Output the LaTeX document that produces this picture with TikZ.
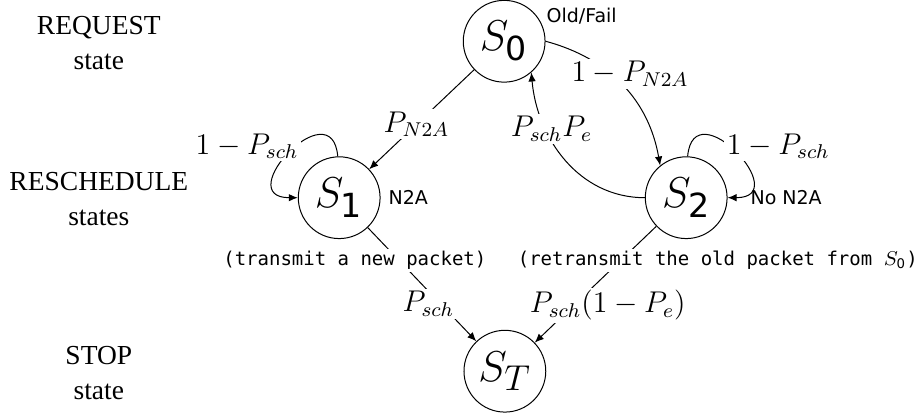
\documentclass[tikz,border=0pt]{standalone}
\usepackage{fontspec}
\setsansfont{DejaVu Sans}
\setmonofont{DejaVu Sans Mono}
\newfontfamily\lvlfont{Liberation Serif}
\usepackage{amsmath}
\usetikzlibrary{arrows.meta, positioning}

\begin{document}
\begin{tikzpicture}[
    >={Latex[length=3.6pt,width=3pt]},
    thin,
    st/.style={draw, circle, minimum size=1.15cm, inner sep=0pt,
               font=\fontsize{19}{22}\selectfont},
    prob/.style={fill=white, inner sep=1pt, font=\large},
    tag/.style={inner sep=0pt, font=\sffamily\fontsize{7.6}{9}\selectfont},
    note/.style={fill=white, inner sep=1pt,
                 font=\ttfamily\fontsize{7.6}{9}\selectfont},
    lvl/.style={align=center, font=\lvlfont\fontsize{11}{14}\selectfont}
  ]
  \useasboundingbox (0,0) rectangle (12.98,-5.905);

  % the four states
  \node[st] (s0) at (7.09,-0.58) {$S_{\textsf{0}}$};
  \node[st] (s1) at (4.77,-2.78) {$S_{\textsf{1}}$};
  \node[st] (s2) at (9.65,-2.78) {$S_{\textsf{2}}$};
  \node[st] (sT) at (7.10,-5.22) {$S_T$};

  % transitions
  \draw[->] (s0) -- node[prob, pos=0.55] {$P_{N2A}$} (s1);
  \draw[->] (s0.east) to[out=-15, in=100]
    node[prob, pos=0.4, xshift=0.28cm] {$1-P_{N2A}$} (s2.129);
  \draw[->] (s2.west) to[out=180, in=-85]
    node[prob, pos=0.7, xshift=0.08cm] {$P_{sch}P_e$} (s0.-49);
  \draw[->] (s1.92) to[out=95, in=180, looseness=3]
    node[prob, pos=0.45, anchor=east, xshift=0.08cm] {$1-P_{sch}$} (s1.west);
  \draw[->] (s2.88) to[out=85, in=0, looseness=3]
    node[prob, pos=0.45, anchor=west, xshift=-0.08cm] {$1-P_{sch}$} (s2.east);
  \draw[->] (s1) -- node[prob, pos=0.67, xshift=-0.17cm] {$P_{sch}$} (sT);
  \draw[->] (s2) -- node[prob, pos=0.68, xshift=0.48cm] {$P_{sch}(1-P_e)$} (sT);

  % notes next to the states
  \node[note] (newpkt) at (4.99,-3.66) {(transmit a new packet)};
  \node[note, anchor=west] (oldpkt) at (7.24,-3.66)
    {(retransmit the old packet from $S_{\textsf{0}}$)};
  \node[tag, anchor=west] (oldfail) at (7.68,-0.225) {Old/Fail};
  \node[tag, right=3pt of s1] (n2a) {N2A};
  \node[tag, right=9pt of s2] (non2a) {No N2A};

  % levels on the left
  \node[lvl] (req) at (1.39,-0.60) {REQUEST\\state};
  \node[lvl] (resch) at (1.39,-2.80) {RESCHEDULE\\states};
  \node[lvl] (stop) at (1.39,-5.24) {STOP\\state};
\end{tikzpicture}
\end{document}
